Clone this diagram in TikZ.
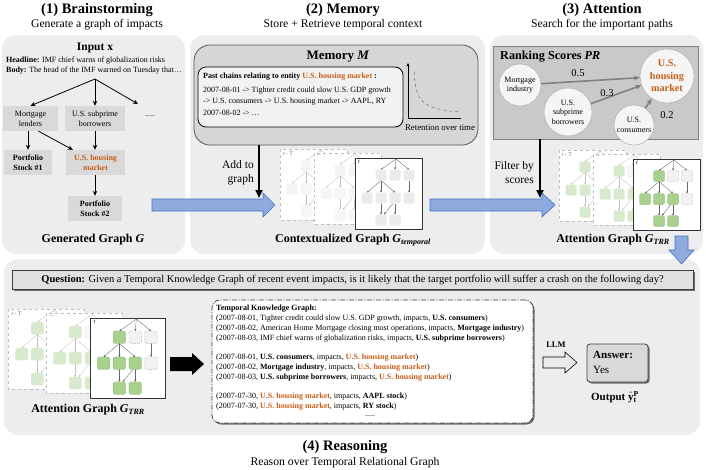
\documentclass[tikz,border=0pt]{standalone}
\usepackage{fontspec}
\setmainfont{Liberation Serif}
\usetikzlibrary{arrows.meta,shadows}
\definecolor{panelc}{RGB}{237,237,237}
\definecolor{boxc}{RGB}{217,217,217}
\definecolor{orng}{RGB}{200,95,25}
\definecolor{bluef}{RGB}{143,170,220}
\definecolor{bluel}{RGB}{68,114,196}
\definecolor{memc}{RGB}{214,214,214}
\definecolor{rankc}{RGB}{201,201,201}
\definecolor{gA}{RGB}{169,209,142}
\definecolor{gB}{RGB}{216,233,205}
\newcommand\fsz[1]{\fontsize{#1}{#1}\selectfont}
\newcommand\hmk{\textcolor{orng}{\textbf{U.S. housing market}}}
\newcommand\mbx[3]{\path[#1] (#2-5.5,#3-5.5) rectangle (#2+5.5,#3+5.5);}
\newcommand\minicard[9]{%
\begin{scope}[shift={(#1,#2)},scale=#3]
 \path[#4] (0,0) rectangle (67,71);
 \node[anchor=north west,inner sep=0pt,font=\fsz{6}] (#9) at (3,2) {#8};
 \draw[#7] (41,1) -- (26,11.5);
 \draw[#7] (41,1) -- (40,11.5);
 \draw[#7] (41,1) -- (54,11.5);
 \draw[#7] (26,22.5) -- (12,34.5);
 \draw[#7] (26,22.5) -- (26,34.5);
 \draw[#7] (26,22.5) -- (40,34.5);
 \draw[#7] (54,22.5) -- (54,34.5);
 \draw[#7] (26,45.5) -- (26,56.5);
 \draw[#7] (38,45.5) -- (29,56.5);
 \draw[#7] (40,45.5) -- (40,56.5);
 \mbx{#5}{26}{17}
 \mbx{#6}{40}{17}
 \mbx{#6}{54}{17}
 \mbx{#5}{12}{40}
 \mbx{#5}{26}{40}
 \mbx{#5}{40}{40}
 \mbx{#6}{54}{40}
 \mbx{#5}{26}{62}
 \mbx{#5}{40}{62}
\end{scope}}
\tikzset{
 ttl/.style={font=\bfseries\fsz{14.5}, inner sep=0pt},
 sub/.style={font=\fsz{11.7}, inner sep=0pt},
 lbl/.style={font=\bfseries\fsz{12}, inner sep=0pt},
 panel/.style={fill=panelc, rounded corners=14pt},
 gbox/.style={fill=boxc, minimum height=25pt, inner sep=1pt, align=center, font=\fontsize{8}{10}\selectfont},
 arr/.style={line width=.8pt, -{Stealth[length=5pt,width=4.5pt]}},
 bigarr/.style={line width=2pt, -{Triangle[length=8pt,width=7pt]}},
 rarr/.style={draw=black!50, line width=1.6pt, -{Stealth[length=6pt,width=5pt]}},
 circ/.style={circle, draw=black!35, fill=black!4, inner sep=0pt, align=center, font=\fontsize{8}{9.5}\selectfont},
 blarrow/.style={draw=bluel, fill=bluef, line width=.6pt},
 shad/.style={drop shadow={shadow xshift=1.5pt, shadow yshift=-1.5pt, opacity=.55, fill=black}},
 cardF/.style={draw=black!25, dashed, fill=white, line width=.4pt},
 cardM/.style={draw=black!80, fill=white, line width=.6pt},
 ctxF/.style={fill=black!4, rounded corners=1.5pt},
 ctxM/.style={fill=black!8, rounded corners=1.5pt},
 attFk/.style={fill=gB, rounded corners=1.5pt},
 attFd/.style={fill=black!3, draw=black!20, dash pattern=on 1pt off 1pt, line width=.3pt, rounded corners=1.5pt},
 attMk/.style={fill=gA, draw=gA!80!black, line width=.2pt, rounded corners=1.5pt},
 attMd/.style={fill=black!5, draw=black!35, dash pattern=on 1pt off 1pt, line width=.4pt, rounded corners=1.5pt},
 edgeF/.style={draw=black!25, line width=.3pt, -{Stealth[length=2pt,width=2pt]}},
 edgeM/.style={draw=black!60, line width=.35pt, -{Stealth[length=2.2pt,width=2.2pt]}},
}
\begin{document}
\begin{tikzpicture}[x={(1pt,0)}, y={(0,-1pt)}]
\useasboundingbox (0,0) rectangle (706,469);
% panels
\path[panel] (2,35) rectangle (185,254);
\path[panel] (190,35) rectangle (485,254);
\path[panel] (490,35) rectangle (703,254);
\path[panel] (4,259) rectangle (700,435);
% titles
\node[ttl] (t1) at (97,10) {(1) Brainstorming};
\node[sub] (s1) at (97,25) {Generate a graph of impacts};
\node[ttl] (t2) at (343,10) {(2) Memory};
\node[sub] (s2) at (343,25) {Store + Retrieve temporal context};
\node[ttl] (t3) at (602,10) {(3) Attention};
\node[sub] (s3) at (602,25) {Search for the important paths};
\node[ttl] (t4) at (345,447) {(4) Reasoning};
\node[sub] (s4) at (345,463) {Reason over Temporal Relational Graph};
% ---------- panel 1
\node[font=\bfseries\fsz{11.5}] (inx) at (95,48) {Input x};
\node[anchor=west,font=\fsz{8},inner sep=0pt] (hl) at (6,61) {\textbf{Headline:} IMF chief warns of globalization risks};
\node[anchor=west,font=\fsz{8},inner sep=0pt] (bd) at (6,71) {\textbf{Body:} The head of the IMF warned on Tuesday that…};
\coordinate (br) at (95,79);
\coordinate (dd) at (138,104);
\node[gbox, minimum width=55pt] (ml) at (30.5,118.5) {Mortgage\\lenders};
\node[gbox, minimum width=60pt] (sb) at (95,118.5) {U.S. subprime\\borrowers};
\node[font=\fsz{8}] (dots) at (150,116) {.....};
\node[gbox, minimum width=48pt, font=\bfseries\fontsize{8}{10}\selectfont] (p1) at (28,162.5) {Portfolio\\Stock \#1};
\node[gbox, minimum width=59pt, font=\bfseries\fontsize{8}{10}\selectfont, text=orng] (hm1) at (95.5,162.5) {U.S. housing\\market};
\node[gbox, minimum width=54pt, font=\bfseries\fontsize{8}{10}\selectfont] (p2) at (95,208.5) {Portfolio\\Stock \#2};
\draw[arr] (br) -- (ml.north);
\draw[arr] (br) -- (sb.north);
\draw[arr] (br) -- (dd);
\draw[arr] (p1.north |- ml.south) -- (p1.north);
\draw[arr] ([xshift=8pt]ml.south) -- ([xshift=7pt]hm1.north west);
\draw[arr] (sb.south) -- (sb.south |- hm1.north);
\draw[arr] (p2.north |- hm1.south) -- (p2.north);
\node[lbl] (g1) at (93,240) {Generated Graph \textit{G}};
% ---------- panel 2
\node[draw=black!65, fill=memc, rounded corners=16pt, minimum width=284pt, minimum height=100pt, inner sep=0pt, line width=.8pt] (mem) at (336,95) {};
\node[font=\bfseries\fsz{13}] (memt) at (338,57) {Memory \textit{M}};
\node[draw=black, fill=black!5, rounded corners=8pt, minimum width=205pt, minimum height=60pt, line width=.8pt, inner sep=0pt] (pc) at (300.5,97) {};
\node[anchor=west, font=\bfseries\fsz{8}, inner sep=0pt] (pc0) at (203,77) {Past chains relating to entity \textcolor{orng}{U.S. housing market} :};
\node[anchor=west, font=\fsz{8}, inner sep=0pt] (pc1) at (203,91) {2007-08-01 -> Tighter credit could slow U.S. GDP growth};
\node[anchor=west, font=\fsz{8}, inner sep=0pt] (pc2) at (203,102) {-> U.S. consumers -> U.S. housing market -> AAPL, RY};
\node[anchor=west, font=\fsz{8}, inner sep=0pt] (pc3) at (203,113) {2007-08-02 -> …};
\coordinate (ax0) at (408,118);
\coordinate (axy) at (408,63);
\coordinate (axx) at (461,118);
\draw[-{Stealth[length=3.5pt,width=3pt]}, line width=.5pt] (ax0) -- (axy);
\draw[line width=.5pt] (ax0) -- (axx);
\draw[dashed, black!60, line width=.5pt] (414,72) .. controls (416,100) and (420,109) .. (460,112);
\node[font=\fsz{8.8}] (ret) at (440,128) {Retention over time};
\coordinate (a2e) at (259,198);
\draw[bigarr] (a2e |- mem.south) -- (a2e);
\node[anchor=east, align=right, font=\fontsize{11.5}{14}\selectfont, inner sep=0pt] (add) at (254,173) {Add to\\graph};
\minicard{280}{149}{1}{cardF}{ctxF}{ctxF}{edgeF}{\textcolor{black!50}{\textit{t}\,- T}}{c1l}
\minicard{314}{153}{1}{cardF}{ctxF}{ctxF}{edgeF}{\textcolor{black!50}{...}}{c2l}
\minicard{355}{158}{1}{cardM}{ctxM}{ctxM}{edgeM}{\textit{t}}{c3l}
\node[lbl] (g2) at (353,240) {Contextualized Graph \textit{G}\textsubscript{\textit{temporal}}};
% ---------- panel 3
\node[draw=black!50, fill=rankc, minimum width=205pt, minimum height=93pt, inner sep=0pt, line width=.8pt] (rank) at (595.5,92.5) {};
\node[anchor=west, font=\bfseries\fsz{12.2}, inner sep=0pt] (rkt) at (500,57) {Ranking Scores \textit{PR}};
\node[circ, minimum size=42pt] (cmi) at (520,85) {Mortgage\\industry};
\node[circ, minimum size=48pt] (csb) at (568,112) {U.S.\\subprime\\borrowers};
\node[circ, minimum size=40pt] (cuc) at (634,125) {U.S.\\consumers};
\node[circ, minimum size=54pt, font=\bfseries\fontsize{10.2}{12.5}\selectfont, text=orng] (chm) at (667,76) {U.S.\\housing\\market};
\draw[rarr] (cmi) -- (chm);
\draw[rarr] (csb) -- (chm);
\draw[rarr] (cuc) -- (chm);
\node[font=\fsz{10.5}] (w1) at (578,73) {0.5};
\node[font=\fsz{10.5}] (w2) at (607,93) {0.3};
\node[font=\fsz{10.5}] (w3) at (667,115) {0.2};
\coordinate (f2e) at (540,198);
\draw[bigarr] (f2e |- rank.south) -- (f2e);
\node[anchor=east, align=right, font=\fontsize{11.5}{14}\selectfont, inner sep=0pt] (filt) at (534,173) {Filter by\\scores};
\minicard{559}{150}{1}{cardF}{attFk}{attFd}{edgeF}{\textcolor{black!50}{\textit{t}\,- T}}{a1l}
\minicard{593}{154}{1}{cardF}{attFk}{attFd}{edgeF}{\textcolor{black!50}{...}}{a2l}
\minicard{633}{159}{1}{cardM}{attMk}{attMd}{edgeM}{\textit{t}}{a3l}
\node[lbl] (g3) at (613,240) {Attention Graph \textit{G}\textsubscript{\textit{TRR}}};
% ---------- blue arrows
\path[blarrow] (152,199) -- (263,199) -- (263,193) -- (275,205) -- (263,217) -- (263,211) -- (152,211) -- cycle;
\path[blarrow] (430,199) -- (542,199) -- (542,193) -- (555,205) -- (542,217) -- (542,211) -- (430,211) -- cycle;
\path[blarrow] (675,236) -- (688,236) -- (688,250) -- (694,250) -- (681.5,264) -- (669,250) -- (675,250) -- cycle;
% ---------- panel 4
\node[draw=black!75, fill=black!12, minimum width=681pt, minimum height=19pt, inner sep=0pt, line width=.8pt, shad, font=\fsz{10.5}] (qb) at (352.5,279.5) {\textbf{Question:} Given a Temporal Knowledge Graph of recent event impacts, is it likely that the target portfolio will suffer a crash on the following day?};
\minicard{8}{309}{1.13}{cardF}{attFk}{attFd}{edgeF}{\textcolor{black!50}{\textit{t}\,- T}}{b1l}
\minicard{46}{313}{1.13}{cardF}{attFk}{attFd}{edgeF}{\textcolor{black!50}{...}}{b2l}
\minicard{90}{318}{1.13}{cardM}{attMk}{attMd}{edgeM}{\textit{t}}{b3l}
\node[lbl] (g4) at (88,410) {Attention Graph \textit{G}\textsubscript{\textit{TRR}}};
\path[fill=black] (170,357) -- (192,357) -- (192,353) -- (204,364) -- (192,375) -- (192,371) -- (170,371) -- cycle;
\node[draw=black!75, dash pattern=on 5pt off 1.5pt on 1pt off 1.5pt, fill=white, rounded corners=8pt, minimum width=321pt, minimum height=123pt, inner sep=0pt, line width=.8pt, shad] (tkg) at (372.5,361.5) {};
\node[anchor=north west, align=left, inner sep=0pt, font=\fontsize{8}{9.8}\selectfont] (tkgt) at (216,305) {\textbf{Temporal Knowledge Graph:}\\
(2007-08-01, Tighter credit could slow U.S. GDP growth, impacts, \textbf{U.S. consumers})\\
(2007-08-02, American Home Mortgage closing most operations, impacts, \textbf{Mortgage industry})\\
(2007-08-03, IMF chief warns of globalization risks, impacts, \textbf{U.S. subprime borrowers})\\[9.8pt]
(2007-08-01, \textbf{U.S. consumers}, impacts, \hmk)\\
(2007-08-02, \textbf{Mortgage industry}, impacts, \hmk)\\
(2007-08-03, \textbf{U.S. subprime borrowers}, impacts, \hmk)\\[9.8pt]
(2007-07-30, \hmk, impacts, \textbf{AAPL stock})\\
(2007-07-30, \hmk, impacts, \textbf{RY stock})};
\node[font=\fsz{8}] (tkgd) at (370,416) {.....};
\path[draw=black, fill=black!8, line width=.6pt] (543,357) -- (565,357) -- (565,352) -- (577,362.5) -- (565,373) -- (565,368) -- (543,368) -- cycle;
\node[font=\bfseries\fsz{8.5}] (llm) at (556,345) {LLM};
\node[draw=black!75, fill=black!15, rounded corners=3pt, minimum width=61pt, minimum height=38pt, inner sep=0pt, line width=.8pt, shad] (ans) at (617.5,363) {};
\node[anchor=west, font=\bfseries\fsz{11}, inner sep=0pt] (ans1) at (593,355) {Answer:};
\node[anchor=west, font=\fsz{11}, inner sep=0pt] (ans2) at (593,370) {Yes};
\node[font=\bfseries\fsz{11}] (outp) at (615,397) {Output $\hat{\mathbf{y}}^{\mathbf{P}}_{\mathbf{t}}$};
\end{tikzpicture}
\end{document}
